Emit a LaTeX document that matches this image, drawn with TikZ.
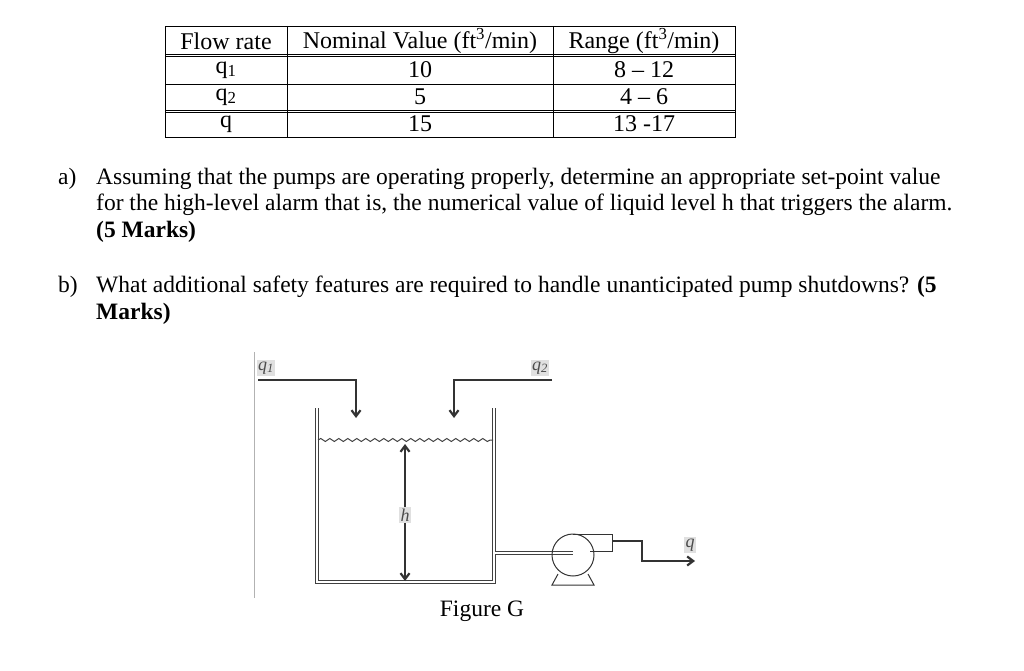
\documentclass[tikz,border=0pt]{standalone}
\usepackage{fontspec}
\setmainfont{Liberation Serif}
\usetikzlibrary{arrows.meta,decorations.pathmorphing}
\begin{document}
\begin{tikzpicture}[x=1pt,y=-1pt,
  txt/.style={font=\fontsize{23.5}{26}\selectfont,inner sep=0pt},
  cell/.style={font=\fontsize{24}{26}\selectfont,inner sep=0pt},
  pipe/.style={line width=2.2pt,draw=black!80},
  wall/.style={double=white,double distance=2pt,line width=1pt,draw=black!75},
  lbl/.style={font=\itshape\fontsize{18}{20}\selectfont,inner sep=1.5pt,fill=black!12,text=black!70}]
\useasboundingbox (0,0) rectangle (1024,671);
% table
\draw[line width=0.9pt] (165,26) rectangle (735,137);
\foreach \x in {287,553} \draw[line width=0.9pt] (\x,26) -- (\x,137);
\draw[line width=0.9pt] (165,56) -- (735,56);
\draw[line width=0.6pt] (165,54) -- (735,54);
\draw[line width=0.9pt] (165,84) -- (735,84);
\draw[line width=0.9pt] (165,110) -- (735,110);
\draw[line width=0.6pt] (165,112) -- (735,112);
\node[cell] (h1) at (226,41) {Flow rate};
\node[cell] (h2) at (420,41) {Nominal Value (ft\textsuperscript{3}/min)};
\node[cell] (h3) at (644,41) {Range (ft\textsuperscript{3}/min)};
\node[cell] (r1a) at (226,70) {q\textsubscript{1}};
\node[cell] (r1b) at (420,70) {10};
\node[cell] (r1c) at (644,70) {8 – 12};
\node[cell] (r2a) at (226,97) {q\textsubscript{2}};
\node[cell] (r2b) at (420,97) {5};
\node[cell] (r2c) at (644,97) {4 – 6};
\node[cell] (r3a) at (226,124) {q};
\node[cell] (r3b) at (420,124) {15};
\node[cell] (r3c) at (644,124) {13 -17};
% questions
\node[txt,anchor=base west] (qa) at (58,184) {a)};
\node[txt,anchor=base west] (a1) at (96,184) {Assuming that the pumps are operating properly, determine an appropriate set-point value};
\node[txt,anchor=base west] (a2) at (96,210) {for the high-level alarm that is, the numerical value of liquid level h that triggers the alarm.};
\node[txt,anchor=base west] (a3) at (96,237) {\textbf{(5 Marks)}};
\node[txt,anchor=base west] (qb) at (58,292) {b)};
\node[txt,anchor=base west] (b1) at (96,292) {What additional safety features are required to handle unanticipated pump shutdowns? \textbf{(5}};
\node[txt,anchor=base west] (b2) at (96,319) {\textbf{Marks)}};
% figure
\draw[black!30,line width=0.6pt] (254,352) -- (254,598);
\coordinate (p1s) at (258,380); \coordinate (p1c) at (356,380); \coordinate (p1e) at (356,418);
\coordinate (p2s) at (552,380); \coordinate (p2c) at (454,380); \coordinate (p2e) at (454,418);
\draw[pipe,-{Straight Barb[length=6pt,width=9pt]}] (p1s) -- (p1c) -- (p1e);
\draw[pipe,-{Straight Barb[length=6pt,width=9pt]}] (p2s) -- (p2c) -- (p2e);
\node[lbl] (q1) at (266,368) {q\textsubscript{1}};
\node[lbl] (q2) at (540,368) {q\textsubscript{2}};
\draw[wall] (317,408) -- (317,582) -- (494,582) -- (494,408);
\coordinate (sl) at (318,440); \coordinate (sr) at (493,440);
\draw[black!75,line width=1pt,decorate,decoration={snake,amplitude=1.5pt,segment length=9pt}] (sl) -- (sr);
\coordinate (ht) at (405,444); \coordinate (hb) at (405,581);
\node[lbl] (hl) at (405,515) {h};
\draw[pipe,-{Straight Barb[length=6pt,width=9pt]}] (hl) -- (ht);
\draw[pipe,-{Straight Barb[length=6pt,width=9pt]}] (hl) -- (hb);
% outlet and pump
\draw[wall] (495,553) -- (573,553);
\node[circle,draw=black!80,line width=1pt,minimum size=42pt,inner sep=0pt] (pump) at (573,555) {};
\draw[black!80,line width=1pt] (573,534) -- (612,534) -- (612,551) -- (590,551);
\draw[black!80,line width=1pt] (558,574) -- (552,585) -- (594,585) -- (588,574);
\coordinate (oa) at (613,541); \coordinate (ob) at (642,541); \coordinate (oc) at (642,561); \coordinate (od) at (695,561);
\draw[pipe,-{Straight Barb[length=6pt,width=9pt]}] (oa) -- (ob) -- (oc) -- (od);
\node[lbl] (ql) at (690,545) {q};
\node[txt] (cap) at (482,611) {Figure G};
\end{tikzpicture}
\end{document}
